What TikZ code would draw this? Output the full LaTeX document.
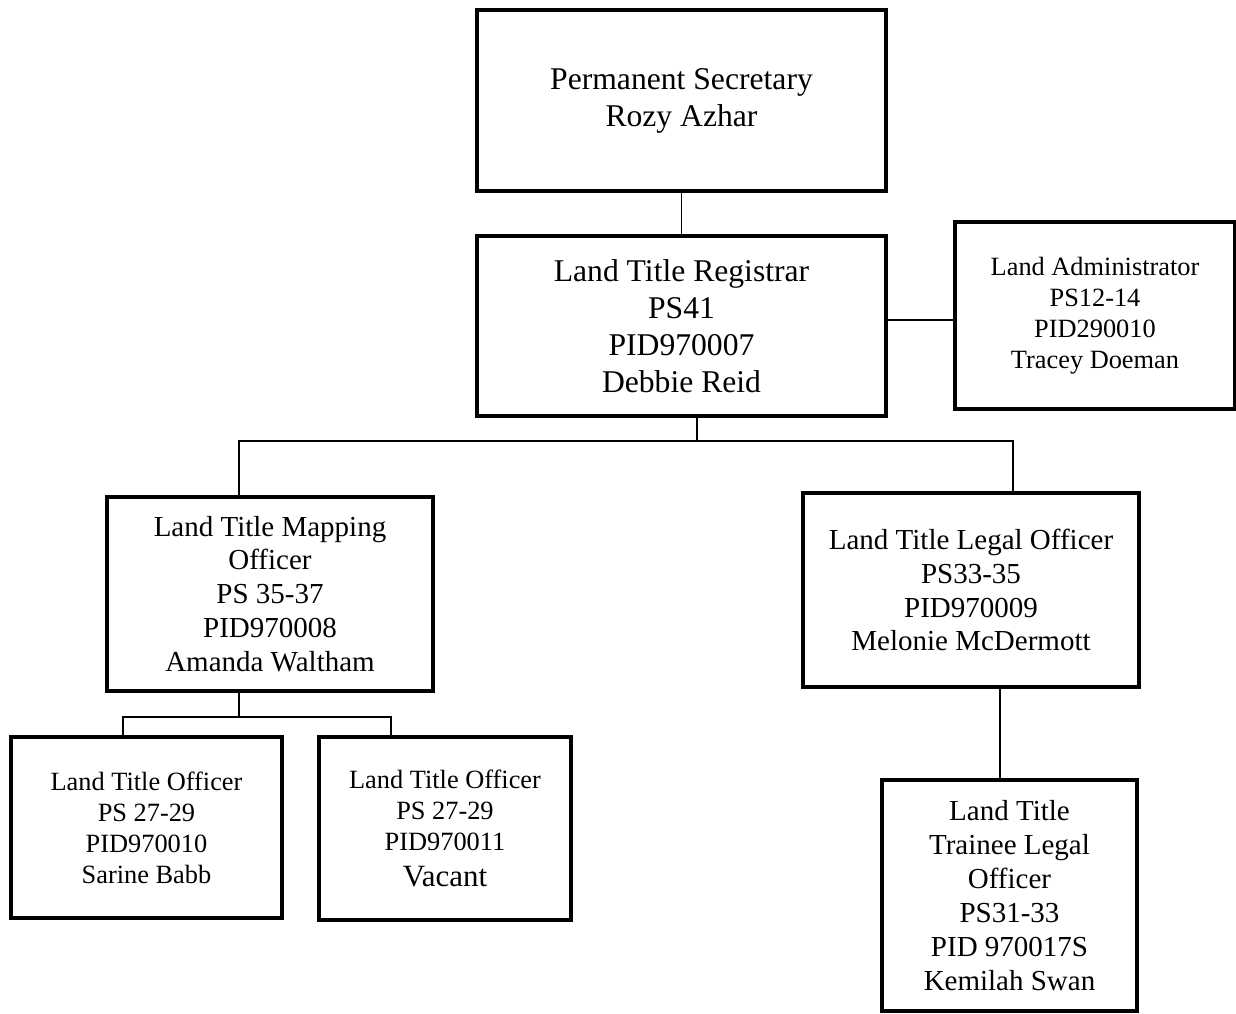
\documentclass[tikz,border=0pt]{standalone}
\usepackage{fontspec}
\setmainfont{Liberation Serif}
\begin{document}
\begin{tikzpicture}[post/.style={draw, line width=2.2pt, align=center, inner sep=2pt},
    big/.style={font=\fontsize{18}{21}\selectfont},
    mid/.style={font=\fontsize{16.5}{19.3}\selectfont},
    small/.style={font=\fontsize{15}{17.6}\selectfont},
    link/.style={line width=0.7pt}]
    \useasboundingbox (0,0) rectangle (24.72,-20.26);% page size of the chart
    % top of the office
    \node[post, big, minimum width=8.18cm, minimum height=3.62cm] (ps) at (13.63,-2.01)
        {Permanent Secretary\\Rozy Azhar};
    \node[post, big, minimum width=8.18cm, minimum height=3.60cm] (ltr) at (13.63,-6.52)
        {Land Title Registrar\\PS41\\PID970007\\Debbie Reid};
    \node[post, small, minimum width=5.60cm, minimum height=3.74cm] (la) at (21.90,-6.31)
        {Land Administrator\\PS12-14\\PID290010\\Tracey Doeman};
    % second level
    \node[post, mid, minimum width=6.52cm, minimum height=3.88cm] (map) at (5.40,-11.88)
        {Land Title Mapping\\Officer\\PS 35-37\\PID970008\\Amanda Waltham};
    \node[post, mid, minimum width=6.72cm, minimum height=3.88cm] (legal) at (19.42,-11.80)
        {Land Title Legal Officer\\PS33-35\\PID970009\\Melonie McDermott};
    % third level
    \node[post, small, minimum width=5.42cm, minimum height=3.62cm] (lto1) at (2.93,-16.55)
        {Land Title Officer\\PS 27-29\\PID970010\\Sarine Babb};
    \node[post, small, minimum width=5.04cm, minimum height=3.66cm] (lto2) at (8.90,-16.57)
        {Land Title Officer\\PS 27-29\\PID970011\\[2.5pt]{\fontsize{17.6}{19}\selectfont Vacant}};
    \node[post, mid, minimum width=5.10cm, minimum height=4.62cm] (trainee) at (20.19,-17.91)
        {Land Title\\Trainee Legal\\Officer\\PS31-33\\PID 970017S\\Kemilah Swan};
    % lines between the posts
    \coordinate (bus) at (13.94,-8.82);
    \coordinate (busL) at (4.78,-8.82);
    \coordinate (busR) at (20.26,-8.82);
    \coordinate (subL) at (2.46,-14.34);
    \coordinate (subR) at (7.82,-14.34);
    \coordinate (legdrop) at (20.00,-14.00);
    \coordinate (side) at (17.72,-6.40);
    \draw[link] (ps.south) -- (ltr.north);
    \draw[link] (side -| ltr.east) -- (side -| la.west);
    \draw[link] (bus |- ltr.south) -- (bus);
    \draw[link] (busL |- map.north) -- (busL) -- (busR) -- (busR |- legal.north);
    \draw[link] (busL |- map.south) -- (busL |- subL);
    \draw[link] (subL |- lto1.north) -- (subL) -- (subR) -- (subR |- lto2.north);
    \draw[link] (legdrop |- legal.south) -- (legdrop |- trainee.north);
\end{tikzpicture}
\end{document}
